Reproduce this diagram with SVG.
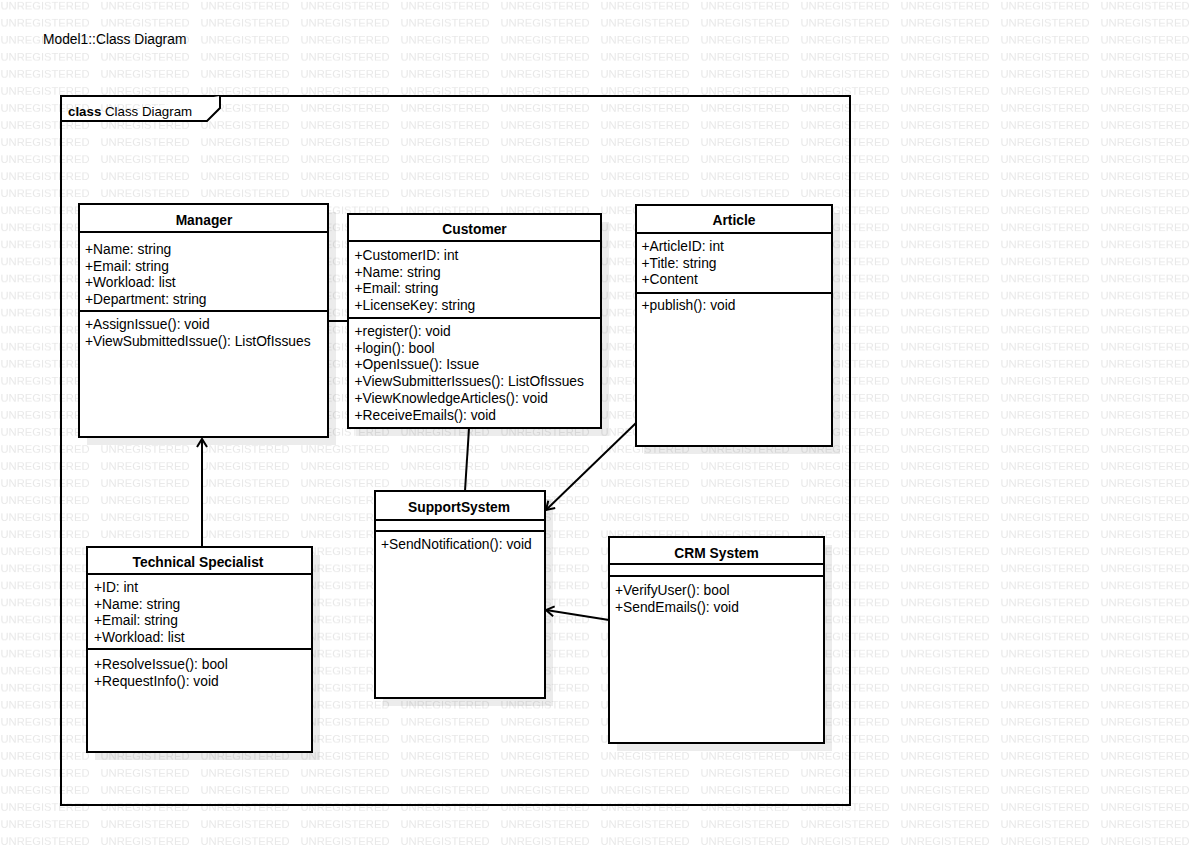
<svg xmlns="http://www.w3.org/2000/svg" width="1200" height="849" viewBox="0 0 1200 849">
<style>
.wm{font-family:"Liberation Sans",Arial,sans-serif;font-size:11px;fill:#e8e8e8}
.t{font-family:"Liberation Sans",Arial,sans-serif;font-size:13.8px;fill:#000}
.b{font-weight:bold}
.box{fill:#fff;stroke:#000;stroke-width:2}
.sh{fill:#000;fill-opacity:0.075}
.ln{stroke:#000;stroke-width:2;fill:none}
.conn line{stroke:#000;stroke-width:2;fill:none}
</style>
<defs>
<pattern id="wmp" patternUnits="userSpaceOnUse" x="0" y="0" width="100" height="17.05">
<text class="wm" x="0.5" y="9" textLength="89" lengthAdjust="spacingAndGlyphs">UNREGISTERED</text>
</pattern>
<marker id="open" markerUnits="userSpaceOnUse" markerWidth="20" markerHeight="20" refX="0" refY="0" viewBox="-10 -10 20 20" orient="auto">
<path d="M -8 -5 L 0 0 L -8 5" fill="none" stroke="#000" stroke-width="2"/>
</marker>
</defs>
<rect x="0" y="0" width="1200" height="849" fill="#fff"/>
<rect x="0" y="0" width="1200" height="849" fill="url(#wmp)"/>
<text class="t" x="43" y="44">Model1::Class Diagram</text>
<g id="frame">
<rect x="61" y="96" width="789" height="709" fill="none" stroke="#000" stroke-width="2"/>
<path d="M 61 121 L 207 121 L 220 108 L 220 96" fill="#fff" stroke="#000" stroke-width="2"/>
<text x="68" y="116" style="font-family:'Liberation Sans',Arial,sans-serif;font-size:13.3px"><tspan font-weight="bold">class</tspan> Class Diagram</text>
</g>
<g class="conn" id="connectors">
<line x1="202" y1="547" x2="202" y2="439" marker-end="url(#open)"/>
<line x1="328" y1="321" x2="348" y2="321"/>
<line x1="469" y1="428" x2="465" y2="491"/>
<line x1="636" y1="423" x2="546" y2="510" marker-end="url(#open)"/>
<line x1="609" y1="620" x2="546" y2="610" marker-end="url(#open)"/>
</g>
<g id="manager">
<rect class="sh" x="87" y="212" width="249" height="233"/>
<rect class="box" x="79" y="204" width="249" height="233"/>
<line class="ln" x1="79" y1="232" x2="328" y2="232"/>
<line class="ln" x1="79" y1="311" x2="328" y2="311"/>
<text class="t b" x="204" y="224.5" text-anchor="middle">Manager</text>
<text class="t" x="85" y="254">+Name: string</text>
<text class="t" x="85" y="270.6">+Email: string</text>
<text class="t" x="85" y="287.2">+Workload: list</text>
<text class="t" x="85" y="303.8">+Department: string</text>
<text class="t" x="85" y="329">+AssignIssue(): void</text>
<text class="t" x="85" y="345.6">+ViewSubmittedIssue(): ListOfIssues</text>
</g>
<g id="customer">
<rect class="sh" x="356" y="222" width="253" height="214"/>
<rect class="box" x="348" y="214" width="253" height="214"/>
<line class="ln" x1="348" y1="241" x2="601" y2="241"/>
<line class="ln" x1="348" y1="318" x2="601" y2="318"/>
<text class="t b" x="474.5" y="234" text-anchor="middle">Customer</text>
<text class="t" x="354.5" y="260">+CustomerID: int</text>
<text class="t" x="354.5" y="276.7">+Name: string</text>
<text class="t" x="354.5" y="293.3">+Email: string</text>
<text class="t" x="354.5" y="310">+LicenseKey: string</text>
<text class="t" x="354.5" y="336">+register(): void</text>
<text class="t" x="354.5" y="352.7">+login(): bool</text>
<text class="t" x="354.5" y="369.4">+OpenIssue(): Issue</text>
<text class="t" x="354.5" y="386.1">+ViewSubmitterIssues(): ListOfIssues</text>
<text class="t" x="354.5" y="402.8">+ViewKnowledgeArticles(): void</text>
<text class="t" x="354.5" y="419.5">+ReceiveEmails(): void</text>
</g>
<g id="article">
<rect class="sh" x="644" y="213" width="196" height="241"/>
<rect class="box" x="636" y="205" width="196" height="241"/>
<line class="ln" x1="636" y1="233" x2="832" y2="233"/>
<line class="ln" x1="636" y1="293" x2="832" y2="293"/>
<text class="t b" x="734" y="225" text-anchor="middle">Article</text>
<text class="t" x="641.5" y="251">+ArticleID: int</text>
<text class="t" x="641.5" y="267.6">+Title: string</text>
<text class="t" x="641.5" y="284.2">+Content</text>
<text class="t" x="641.5" y="310">+publish(): void</text>
</g>
<g id="technical-specialist">
<rect class="sh" x="95" y="555" width="225" height="205"/>
<rect class="box" x="87" y="547" width="225" height="205"/>
<line class="ln" x1="87" y1="574" x2="312" y2="574"/>
<line class="ln" x1="87" y1="649" x2="312" y2="649"/>
<text class="t b" x="198" y="566.5" text-anchor="middle">Technical Specialist</text>
<text class="t" x="94" y="592">+ID: int</text>
<text class="t" x="94" y="608.7">+Name: string</text>
<text class="t" x="94" y="625.4">+Email: string</text>
<text class="t" x="94" y="642.1">+Workload: list</text>
<text class="t" x="94" y="669">+ResolveIssue(): bool</text>
<text class="t" x="94" y="685.7">+RequestInfo(): void</text>
</g>
<g id="support-system">
<rect class="sh" x="383" y="499" width="170" height="207"/>
<rect class="box" x="375" y="491" width="170" height="207"/>
<line class="ln" x1="375" y1="520" x2="545" y2="520"/>
<line class="ln" x1="375" y1="531" x2="545" y2="531"/>
<text class="t b" x="459" y="511.5" text-anchor="middle">SupportSystem</text>
<text class="t" x="381" y="549">+SendNotification(): void</text>
</g>
<g id="crm-system">
<rect class="sh" x="617" y="545" width="215" height="206"/>
<rect class="box" x="609" y="537" width="215" height="206"/>
<line class="ln" x1="609" y1="564" x2="824" y2="564"/>
<line class="ln" x1="609" y1="576" x2="824" y2="576"/>
<text class="t b" x="716.5" y="557.5" text-anchor="middle">CRM System</text>
<text class="t" x="615" y="595">+VerifyUser(): bool</text>
<text class="t" x="615" y="611.5">+SendEmails(): void</text>
</g>
</svg>
